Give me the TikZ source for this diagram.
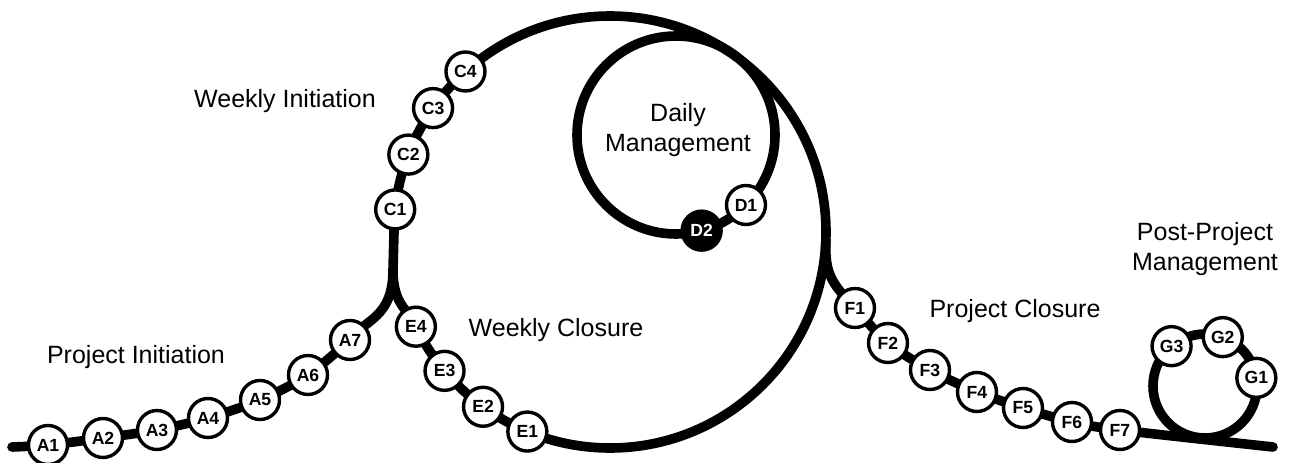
\documentclass[tikz,border=0pt]{standalone}
\usepackage{fontspec}
\setmainfont{Liberation Sans}
\usetikzlibrary{backgrounds}

\begin{document}
\begin{tikzpicture}[x=0.5pt, y=0.5pt,
	track/.style={line width=4.8pt, line cap=round},
	stage/.style={circle, draw, line width=1.7pt, fill=white, minimum size=19.5pt, inner sep=0pt, font=\fontsize{8.8}{9}\selectfont\bfseries},
	caption/.style={align=center, font=\fontsize{12.5}{15}\selectfont}]
	\useasboundingbox (0, 0) rectangle (1297, 462);
	\coordinate (O) at (610, 230);
	\coordinate (M) at (676, 327);
	\coordinate (N) at (1205, 76);
	\coordinate (S) at (12, 15);
	\coordinate (R) at (1273, 15);
	\coordinate (J) at (393, 192);
	\coordinate (L) at ([shift={(180:216)}]O);
	\coordinate (K) at ([shift={(-2:216)}]O);
	
	% project initiation
	\node[stage] (A1) at (48, 17) {A1};
	\node[stage] (A2) at (103, 24) {A2};
	\node[stage] (A3) at (157, 32) {A3};
	\node[stage] (A4) at (208, 44) {A4};
	\node[stage] (A5) at (260, 62) {A5};
	\node[stage] (A6) at (308, 87) {A6};
	\node[stage] (A7) at (350, 122) {A7};
	
	% weekly loop
	\node[stage] (C1) at ([shift={(174:216)}]O) {C1};
	\node[stage] (C2) at ([shift={(159:216)}]O) {C2};
	\node[stage] (C3) at ([shift={(145:216)}]O) {C3};
	\node[stage] (C4) at ([shift={(132:216)}]O) {C4};
	\node[stage] (E1) at ([shift={(247.5:216)}]O) {E1};
	\node[stage] (E2) at ([shift={(234:216)}]O) {E2};
	\node[stage] (E3) at ([shift={(220:216)}]O) {E3};
	\node[stage] (E4) at ([shift={(206:216)}]O) {E4};
	
	% daily loop
	\node[stage] (D1) at ([shift={(-45:99)}]M) {D1};
	\node[stage, fill=black, text=white] (D2) at ([shift={(-75:99)}]M) {D2};
	
	% project closure
	\node[stage] (F1) at (855, 154) {F1};
	\node[stage] (F2) at (888, 119) {F2};
	\node[stage] (F3) at (930, 92) {F3};
	\node[stage] (F4) at (977, 70) {F4};
	\node[stage] (F5) at (1023, 54) {F5};
	\node[stage] (F6) at (1072, 40) {F6};
	\node[stage] (F7) at (1120, 32) {F7};
	
	% post-project loop
	\node[stage] (G1) at ([shift={(9:52)}]N) {G1};
	\node[stage] (G2) at ([shift={(70:52)}]N) {G2};
	\node[stage] (G3) at ([shift={(130:52)}]N) {G3};
	
	\node[caption] (pi) at (136, 105) {Project Initiation};
	\node[caption] (wi) at (285, 361) {Weekly Initiation};
	\node[caption] (dm) at (678, 332) {Daily\\Management};
	\node[caption] (wc) at (556, 132) {Weekly Closure};
	\node[caption] (pc) at (1015, 151) {Project Closure};
	\node[caption] (pp) at (1205, 213) {Post-Project\\Management};
	
	\begin{scope}[on background layer]
		\draw[track] plot[smooth] coordinates {(S) (A1.center) (A2.center) (A3.center) (A4.center) (A5.center) (A6.center) (A7.center)} to[out=55, in=-90, out looseness=0.8, in looseness=1.5] (J) -- (L);
		\draw[track] (L) arc[start angle=180, end angle=-154, radius=216] to[out=112, in=-90, out looseness=0.8, in looseness=1.5] (J);
		\draw[track] (M) circle[radius=99];
		\draw[track] (K) to[out=-92, in=133, looseness=1.2] (F1.center) -- plot[smooth] coordinates {(F1.center) (F2.center) (F3.center) (F4.center) (F5.center) (F6.center) (F7.center) (R)};
		\draw[track] (N) circle[radius=52];
	\end{scope}
\end{tikzpicture}
\end{document}
